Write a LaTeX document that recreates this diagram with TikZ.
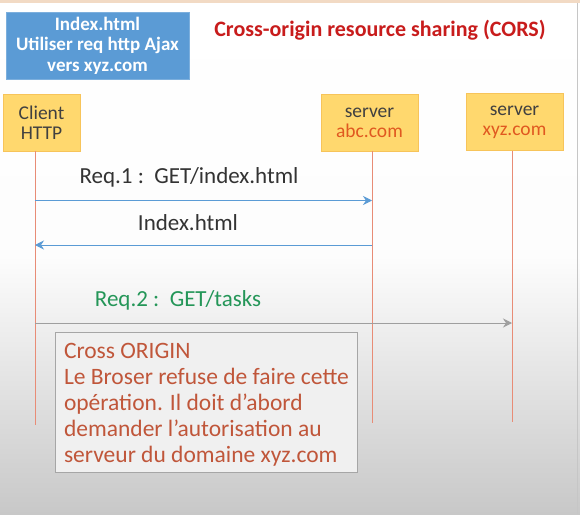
\documentclass[tikz,border=0pt]{standalone}
\usepackage{fontspec}
\setmainfont{Carlito}
\usetikzlibrary{arrows.meta,positioning}
\definecolor{pageblue}{RGB}{91,155,213}
\definecolor{actorfill}{RGB}{255,216,110}
\definecolor{actoredge}{RGB}{247,196,90}
\definecolor{lifeline}{RGB}{232,140,118}
\definecolor{titlered}{RGB}{200,28,28}
\definecolor{hostred}{RGB}{224,88,32}
\definecolor{reqgreen}{RGB}{36,150,88}
\definecolor{notered}{RGB}{192,86,58}
\definecolor{bggray}{RGB}{200,200,200}
\definecolor{topstrip}{RGB}{242,218,196}
\begin{document}
\begin{tikzpicture}[x=1pt, y=-1pt]
    % Styles for the boxes, life lines and messages
    \tikzset{
        page/.style={draw=pageblue!80!white, fill=pageblue, text=white, font=\fontsize{19}{20.5}\selectfont\bfseries, align=center, minimum width=183pt, minimum height=67pt, inner sep=0pt},
        actor/.style={draw=actoredge, fill=actorfill, text=black!75, font=\fontsize{19.5}{20}\selectfont, align=center, minimum height=57pt, inner sep=0pt},
        life/.style={lifeline, thick},
        msg/.style={-{Stealth[length=9pt, width=9pt, inset=3pt]}, thick},
        lbl/.style={font=\fontsize{23}{26}\selectfont, inner sep=0pt},
        note/.style={draw=gray!70, fill=gray!12, minimum width=302pt, minimum height=140pt, inner sep=0pt}
    }

    % Background of the slide
    \useasboundingbox (0,0) rectangle (580,514);
    \shade[top color=white, bottom color=bggray, middle color=white!96!bggray] (0,0) rectangle (580,514);
    \fill[topstrip] (0,0) rectangle (580,3);
    \draw[gray!45] (577.5,3) -- (577.5,514);

    % Title and the page that is loaded
    \node[page] (index) at (97.5,45.5) {Index.html\\Utiliser req http Ajax\\vers xyz.com};
    \node[text=titlered, font=\fontsize{22}{26}\selectfont\bfseries] (title) at (380,30) {Cross-origin resource sharing (CORS)};

    % The three participants
    \node[actor, minimum width=77pt] (client) at (41.5,122.5) {Client\\HTTP};
    \node[actor, minimum width=97pt] (abc) at (369.5,122.5) {server\\\textcolor{hostred}{abc.com}};
    \node[actor, minimum width=97pt] (xyz) at (514.5,122) {server\\\textcolor{hostred}{xyz.com}};

    % Life lines
    \coordinate (clientEnd) at (35,425);
    \coordinate (abcEnd) at (372,423);
    \coordinate (xyzEnd) at (512,422);
    \draw[life] (client.south -| clientEnd) -- (clientEnd);
    \draw[life] (abc.south -| abcEnd) -- (abcEnd);
    \draw[life] (xyz.south -| xyzEnd) -- (xyzEnd);

    % Message end points on the life lines
    \coordinate (c1) at (35,200.5);  \coordinate (a1) at (372,200.5);
    \coordinate (a2) at (372,245); \coordinate (c2) at (35,245);
    \coordinate (c3) at (35,323);  \coordinate (x3) at (512,323);

    \draw[msg, pageblue] (c1) -- (a1);
    \draw[msg, pageblue] (a2) -- (c2);
    \draw[msg, gray!75] (c3) -- (x3);

    \node[lbl, text=black!80] (req1) at (189,177) {Req.1 :\ \ GET/index.html};
    \node[lbl, text=black!80] (resp1) at (188,223) {Index.html};
    \node[lbl, text=reqgreen] (req2) at (178,300) {Req.2 :\ \ GET/tasks};

    % Refusal of the browser
    \node[note] (refus) at (206,402) {};
    \node[text=notered, font=\fontsize{23.5}{26}\selectfont, align=left, anchor=north west, inner sep=0pt] (refusText) at ([xshift=9pt, yshift=-11pt]refus.north west) {Cross ORIGIN\\Le Broser refuse de faire cette\\op\'eration. Il doit d'abord\\demander l'autorisation au\\serveur du domaine xyz.com};
\end{tikzpicture}
\end{document}
